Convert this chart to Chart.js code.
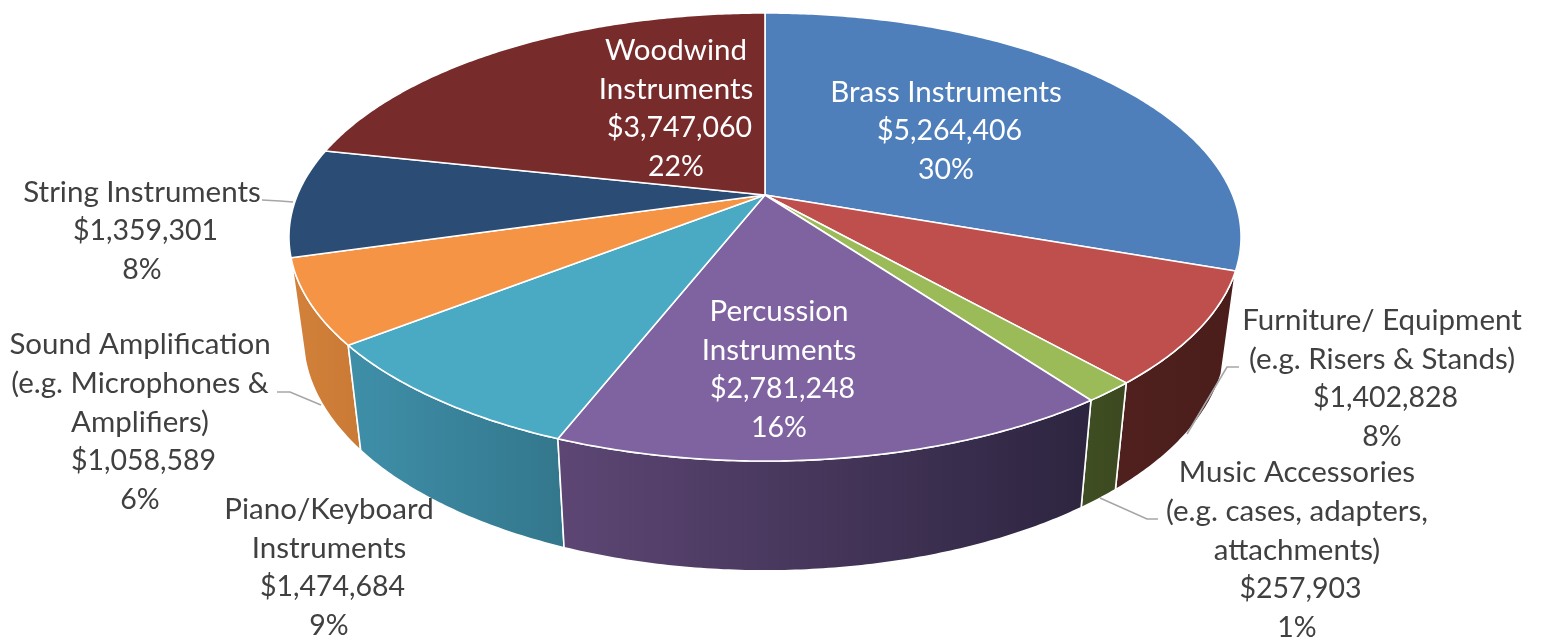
<!DOCTYPE html>
<html lang="en">
<head>
<meta charset="UTF-8">
<title>Instrument spending</title>
<style>
    html, body { margin: 0; padding: 0; background: #fff; }
    canvas { display: block; }
</style>
</head>
<body>
<canvas id="pie3d" width="1543" height="637"></canvas>
<script src="https://cdn.jsdelivr.net/npm/chart.js"></script>
<script>
// Data
const categories = [
    ['Brass Instruments'],
    ['Furniture/ Equipment', '(e.g. Risers & Stands)'],
    ['Music Accessories', '(e.g. cases, adapters,', 'attachments)'],
    ['Percussion', 'Instruments'],
    ['Piano/Keyboard', 'Instruments'],
    ['Sound Amplification', '(e.g. Microphones &', 'Amplifiers)'],
    ['String Instruments'],
    ['Woodwind', 'Instruments']
];
const amounts = [5264406, 1402828, 257903, 2781248, 1474684, 1058589, 1359301, 3747060];

// Styling
const topColors = ['#4f7fbb', '#bf4f4c', '#9bbb59', '#7f62a0', '#4aa9c3', '#f59445', '#2b4c74', '#772b2a'];
const wallColors = [
    ['#2f5685', '#2f5685'], ['#4f201e', '#4a1d1b'], ['#404e23', '#3c4920'], ['#5d4674', '#2d2540'],
    ['#3f8fa9', '#33778c'], ['#d3813a', '#c97a35'], ['#1f3a5a', '#1f3a5a'], ['#4f1d1c', '#4f1d1c']
];
// where each label block sits: centre x, first line y, text colour
const labelSpots = [
    { x: 946, y: 92, color: '#fff' },
    { x: 1382, y: 320, color: '#404040' },
    { x: 1297, y: 472, color: '#404040' },
    { x: 779, y: 311, color: '#fff' },
    { x: 329, y: 509, color: '#404040' },
    { x: 140, y: 344, color: '#404040' },
    { x: 142, y: 192, color: '#404040' },
    { x: 676, y: 50, color: '#fff' }
];
const leaders = [
    [[262, 200], [280, 201], [293, 202]],
    [[277, 392], [290, 392], [321, 405]],
    [[1239, 367], [1227, 367], [1187, 434]],
    [[1158, 519], [1147, 519], [1100, 498]]
];
const lineHeight = 39;
const labelFont = '29.5px Lato';
const figureFont = '28.5px Lato';
const moneyShift = 3.5;

// perspective tilt of the unit circle onto the page
const CX = 765, CY = 195, A = 467.6, B = 179.6, C = -0.1875;
function topPoint(a) {
    const x = Math.cos(a), y = Math.sin(a), w = 1 + C * y;
    return [CX + A * x / w, (B * y + CY) / w];
}
function bottomPoint(a) {
    const p = topPoint(a);
    return [CX + (p[0] - CX) * 0.97, p[1] * 1.04 + 91.4];
}
function arcPoints(fn, start, end) {
    const n = Math.max(2, Math.ceil((end - start) / 0.01));
    const pts = [];
    for (let i = 0; i <= n; i++) pts.push(fn(start + (end - start) * i / n));
    return pts;
}
function tracePath(ctx, pts) {
    ctx.beginPath();
    pts.forEach((p, i) => i ? ctx.lineTo(p[0], p[1]) : ctx.moveTo(p[0], p[1]));
    ctx.closePath();
}

const pie3d = {
    id: 'pie3d',
    beforeDatasetDraw(chart) {
        const ctx = chart.ctx;
        const arcs = chart.getDatasetMeta(0).data;
        ctx.save();
        ctx.lineJoin = 'round';
        ctx.strokeStyle = '#fff';
        ctx.lineWidth = 1.6;

        // walls, back to front
        const order = arcs.map((a, i) => i).sort((p, q) =>
            Math.sin((arcs[p].startAngle + arcs[p].endAngle) / 2) - Math.sin((arcs[q].startAngle + arcs[q].endAngle) / 2));
        order.forEach(i => {
            const top = arcPoints(topPoint, arcs[i].startAngle, arcs[i].endAngle);
            const bottom = arcPoints(bottomPoint, arcs[i].startAngle, arcs[i].endAngle);
            const xs = top.concat(bottom).map(p => p[0]);
            const grad = ctx.createLinearGradient(Math.min(...xs), 0, Math.max(...xs), 0);
            grad.addColorStop(0, wallColors[i][0]);
            grad.addColorStop(1, wallColors[i][1]);
            tracePath(ctx, top.concat(bottom.reverse()));
            ctx.fillStyle = grad;
            ctx.fill();
            ctx.stroke();
        });

        // top face
        arcs.forEach((arc, i) => {
            tracePath(ctx, [[CX, CY]].concat(arcPoints(topPoint, arc.startAngle, arc.endAngle)));
            ctx.fillStyle = topColors[i];
            ctx.fill();
            ctx.stroke();
        });
        ctx.restore();
        return false;
    },
    afterDraw(chart) {
        const ctx = chart.ctx;
        const total = amounts.reduce((s, v) => s + v, 0);
        ctx.save();
        ctx.strokeStyle = '#a6a6a6';
        ctx.lineWidth = 1.6;
        leaders.forEach(line => {
            ctx.beginPath();
            line.forEach((p, i) => i ? ctx.lineTo(p[0], p[1]) : ctx.moveTo(p[0], p[1]));
            ctx.stroke();
        });
        ctx.textAlign = 'center';
        ctx.textBaseline = 'middle';
        categories.forEach((name, i) => {
            const spot = labelSpots[i];
            const n = name.length;
            ctx.fillStyle = spot.color;
            ctx.font = labelFont;
            name.forEach((t, k) => ctx.fillText(t, spot.x, spot.y + k * lineHeight));
            ctx.font = figureFont;
            ctx.fillText('$' + amounts[i].toLocaleString('en-US'), spot.x + moneyShift, spot.y + n * lineHeight);
            ctx.fillText(Math.round(amounts[i] / total * 100) + '%', spot.x, spot.y + (n + 1) * lineHeight);
        });
        ctx.restore();
    }
};

new Chart(document.getElementById('pie3d'), {
    type: 'pie',
    data: {
        labels: categories.map(c => c.join(' ')),
        datasets: [{ data: amounts, backgroundColor: topColors }]
    },
    options: {
        responsive: false,
        animation: false,
        plugins: { legend: { display: false }, tooltip: { enabled: false } }
    },
    plugins: [pie3d]
});
</script>
</body>
</html>
